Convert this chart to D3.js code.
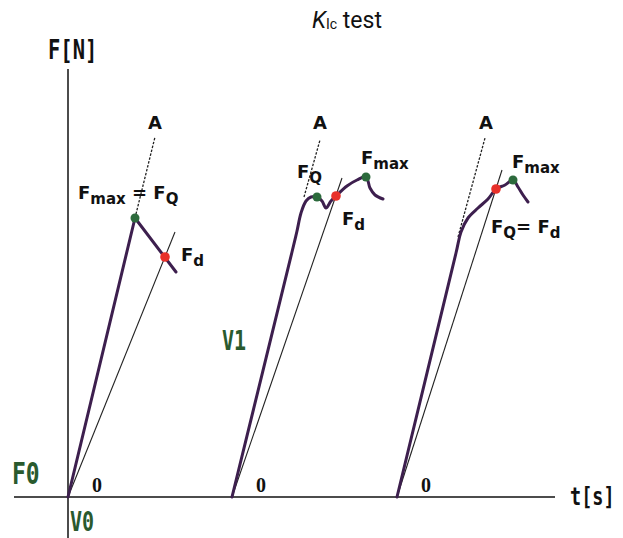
<!DOCTYPE html>
<html>
<head>
<meta charset="utf-8">
<script src="https://cdn.jsdelivr.net/npm/d3@7"></script>
<style>
  body { margin: 0; background: #fff; }
  svg { display: block; }
</style>
</head>
<body>
<div id="chart"></div>
<script>
// t in arbitrary seconds, F in arbitrary newtons (schematic)
var curve1 = [[0, 0], [6.7, 27.9], [10.8, 22.5]];
var curve2 = [[16.4, 0], [22.4, 24.5], [22.9, 26.6], [23.3, 28.4], [23.8, 29.6], [24.3, 30.0],
              [24.9, 30.0], [25.4, 29.6], [25.8, 28.9], [26.3, 29.6], [26.8, 30.1],
              [27.9, 31.1], [28.9, 31.7], [29.8, 32.0], [30.2, 30.9], [30.7, 30.2], [31.5, 29.8]];
var curve3 = [[32.9, 0], [38.8, 24.4], [39.3, 26.5], [40.0, 27.9], [41.0, 28.9], [42.0, 29.8],
              [42.8, 30.8], [43.7, 31.2], [44.5, 31.7], [45.0, 31.0], [45.5, 30.2], [46.0, 29.5]];
var curves = [curve1, curve2, curve3];

// secant lines (5% offset) and initial tangents A
var secants = [[[0, 0], [10.7, 26.5]], [[16.4, 0], [27.4, 31.9]], [[32.9, 0], [43.4, 32.7]]];
var tangents = [[[6.7, 27.9], [8.7, 36.0]], [[23.6, 30.0], [25.2, 35.7]], [[39.0, 26.0], [41.7, 35.9]]];

var greenPoints = [[6.7, 27.9], [24.9, 30.0], [29.8, 32.0], [44.5, 31.7]];
var redPoints = [[9.7, 24.0], [26.8, 30.1], [42.8, 30.8]];

var startTimes = [0, 16.4, 32.9];
var zeroLabels = ["0", "0", "0"];

var width = 623, height = 538;

var x = d3.scaleLinear().domain([0, 49]).range([68, 558]);
var y = d3.scaleLinear().domain([0, 46]).range([497, 37]);

var svg = d3.select("#chart").append("svg")
    .attr("width", width)
    .attr("height", height);

var purple = "#3d1f4e";
var green = "#2c6a3c";
var red = "#e8302a";
var labelGreen = "#2a5a2e";

// title
var title = svg.append("text")
    .attr("x", 312)
    .attr("y", 28)
    .attr("font-family", "Roboto, sans-serif")
    .attr("font-size", 23)
    .attr("fill", "#111");
title.append("tspan").attr("font-style", "italic").text("K");
title.append("tspan").attr("font-size", 14).attr("dy", 1).text("Ic");
title.append("tspan").attr("dy", -1).text(" test");

// axes
var line = d3.line().x(function(d) { return x(d[0]); }).y(function(d) { return y(d[1]); });

svg.append("path")
    .attr("d", line([[0, -4.2], [0, 42.8]]))
    .attr("stroke", "#111")
    .attr("stroke-width", 1.5);
svg.append("path")
    .attr("d", line([[-5.4, 0], [48.7, 0]]))
    .attr("stroke", "#111")
    .attr("stroke-width", 1.5);

// tall pixel-like labels: mono font stretched vertically
function monoLabel(txt, px, py, size, color) {
    svg.append("g")
        .attr("transform", "translate(" + px + "," + py + ") scale(1,1.3)")
        .append("text")
        .attr("font-family", "DejaVu Sans Mono, monospace")
        .attr("font-weight", "bold")
        .attr("font-size", size)
        .attr("fill", color)
        .text(txt);
}
monoLabel("F[N]", 48, 59, 20.5, "#111");
monoLabel("t[s]", 570, 505, 18.5, "#111");
monoLabel("F0", 12, 484, 23, labelGreen);
monoLabel("V0", 70, 531, 20, labelGreen);
monoLabel("V1", 222, 350, 20, labelGreen);

// secant lines
svg.selectAll(".secant")
    .data(secants)
    .enter().append("path")
    .attr("class", "secant")
    .attr("d", line)
    .attr("fill", "none")
    .attr("stroke", "#222")
    .attr("stroke-width", 1.1);

// tangent lines (dotted)
svg.selectAll(".tangent")
    .data(tangents)
    .enter().append("path")
    .attr("class", "tangent")
    .attr("d", line)
    .attr("fill", "none")
    .attr("stroke", "#222")
    .attr("stroke-width", 1.3)
    .attr("stroke-dasharray", "2.5,1.5");

// force curves
var smooth = d3.line().x(function(d) { return x(d[0]); }).y(function(d) { return y(d[1]); })
    .curve(d3.curveCatmullRom.alpha(0.5));
svg.selectAll(".curve")
    .data(curves)
    .enter().append("path")
    .attr("class", "curve")
    .attr("d", function(d, i) { return i === 0 ? line(d) : smooth(d); })
    .attr("fill", "none")
    .attr("stroke", purple)
    .attr("stroke-width", 3)
    .attr("stroke-linejoin", "round")
    .attr("stroke-linecap", "round");

svg.selectAll(".gpt")
    .data(greenPoints)
    .enter().append("circle")
    .attr("cx", function(d) { return x(d[0]); })
    .attr("cy", function(d) { return y(d[1]); })
    .attr("r", 4.5)
    .attr("fill", green);

svg.selectAll(".rpt")
    .data(redPoints)
    .enter().append("circle")
    .attr("cx", function(d) { return x(d[0]); })
    .attr("cy", function(d) { return y(d[1]); })
    .attr("r", 4.8)
    .attr("fill", red);

// "0" at each start
svg.selectAll(".zero")
    .data(startTimes)
    .enter().append("text")
    .attr("x", function(d) { return x(d) + 29; })
    .attr("y", y(0) - 5)
    .attr("text-anchor", "middle")
    .attr("font-family", "Liberation Serif, serif")
    .attr("font-weight", "bold")
    .attr("font-size", 20)
    .attr("fill", "#111")
    .text(function(d, i) { return zeroLabels[i]; });

// annotation labels
var sans = "DejaVu Sans, Verdana, sans-serif";
function label(parts, px, py) {
    var t = svg.append("text")
        .attr("x", px)
        .attr("y", py)
        .attr("font-family", sans)
        .attr("font-weight", "bold")
        .attr("font-size", 18)
        .attr("fill", "#111");
    parts.forEach(function(p) {
        var s = t.append("tspan").text(p[0]);
        if (p[1]) s.attr("font-size", 15).attr("dy", 5);
        if (p[2]) s.attr("dy", -5);
    });
    return t;
}

label([["A"]], 148, 129);
label([["A"]], 313, 129);
label([["A"]], 479, 129);

label([["F"], ["max", true], [" = ", false, true], ["F"], ["Q", true]], 78, 199);
label([["F"], ["d", true]], 181, 261);

label([["F"], ["Q", true]], 297, 178);
label([["F"], ["d", true]], 342, 225);
label([["F"], ["max", true]], 361, 164);

label([["F"], ["max", true]], 512, 168);
label([["F"], ["Q", true], ["= ", false, true], ["F"], ["d", true]], 491, 233);
</script>
</body>
</html>
